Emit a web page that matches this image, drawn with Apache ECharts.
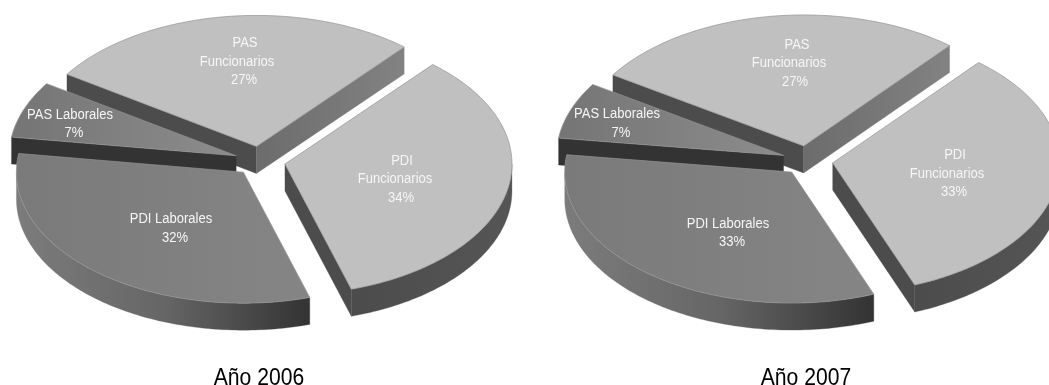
<!DOCTYPE html>
<html>
<head>
<meta charset="utf-8">
<style>html,body{margin:0;padding:0;background:#fff;overflow:hidden}#chart{width:1049px;height:385px}</style>
<script src="https://cdn.jsdelivr.net/npm/echarts@6/dist/echarts.min.js"></script>
</head>
<body>
<div id="chart"></div>
<script>
// Staff distribution by group, one exploded 3D-look pie per year.
var categories = [['PDI', 'Funcionarios'], ['PDI Laborales'], ['PAS Laborales'], ['PAS', 'Funcionarios']];
var values2006 = [34, 32, 7, 27];
var values2007 = [33, 33, 7, 27];
var titles = ['Año 2006', 'Año 2007'];

// Pie projection
var radiusX = 227, radiusY = 131, depth = 27, explode = 25.5;
var pieCenters = [[260, 161], [807.5, 160.5]];
var startAngles = [40.6, 40];
var titleCenters = [259, 806];
var titleMiddle = 378;

// Painting order, back to front
var sliceZ = [4, 3, 2, 1];

// Face colours per slice
var topColors = [
  '#c0c0c0',
  ['#7a7a7a', '#858585'],
  ['#757575', '#8c8c8c'],
  '#c0c0c0'
];
var startWallColors = [null, null, '#333333', '#4c4c4c'];
var endWallColors = ['#4c4c4c', null, null, ['#6c6c6c', '#828282']];
var arcWallColors = [
  ['#4c4c4c', '#555555'],
  ['#7c7c7c', '#666666', '#333333'],
  null,
  null
];
var edgeColor = '#949494';

// Centres of each label line, relative to the pie centre
var labelOffsets = [
  [
    [[142, 0], [135, 18], [141, 37]],
    [[-89, 58], [-85, 77]],
    [[-190, -46], [-186, -28]],
    [[-15, -118], [-23, -99], [-16, -81]]
  ],
  [
    [[147.5, -5.5], [139.5, 13.5], [146.5, 31.5]],
    [[-79.5, 63.5], [-75.5, 81.5]],
    [[-190.5, -46.5], [-186.5, -27.5]],
    [[-10.5, -115.5], [-18.5, -97.5], [-12.5, -78.5]]
  ]
];

function gradient(colors) {
  if (typeof colors === 'string') return colors;
  var stops = colors.map(function (c, i) {
    return { offset: i / (colors.length - 1), color: c };
  });
  return new echarts.graphic.LinearGradient(0, 0, 1, 0, stops);
}

function rimPoint(apex, deg) {
  var r = deg * Math.PI / 180;
  return [apex[0] + radiusX * Math.sin(r), apex[1] - radiusY * Math.cos(r)];
}

function rows(values) {
  var sum = 0;
  return values.map(function (v) {
    var row = [v, sum];
    sum += v;
    return row;
  });
}

function makeRenderer(chartIndex, values) {
  var total = values.reduce(function (a, b) { return a + b; }, 0);
  return function (params, api) {
    var i = params.dataIndex;
    var v = api.value(0);
    var a = startAngles[chartIndex] + api.value(1) / total * 360;
    var b = a + v / total * 360;
    var mid = (a + b) / 2 * Math.PI / 180;
    var c = pieCenters[chartIndex];
    var apex = [c[0] + explode * Math.sin(mid), c[1] - explode * radiusY / radiusX * Math.cos(mid)];
    var z = sliceZ[i] * 10;
    var children = [];

    function face(points, fill, zz, stroke) {
      children.push({
        type: 'polygon',
        z2: zz,
        shape: { points: points },
        style: { fill: fill, stroke: stroke || fill, lineWidth: stroke ? 0.7 : 0.3 }
      });
    }
    function radialWall(deg, colors) {
      var p = rimPoint(apex, deg);
      face([apex, p, [p[0], p[1] + depth], [apex[0], apex[1] + depth]], gradient(colors), z);
    }

    if (startWallColors[i]) radialWall(a, startWallColors[i]);
    if (endWallColors[i]) radialWall(b, endWallColors[i]);

    if (arcWallColors[i]) {
      // Only the near half of the rim shows its outer wall
      var from = Math.max(a, 90), to = Math.min(b, 270);
      var upper = [], lower = [];
      for (var d = from; d <= to; d += 1) upper.push(rimPoint(apex, d));
      upper.push(rimPoint(apex, to));
      upper.forEach(function (p) { lower.unshift([p[0], p[1] + depth]); });
      face(upper.concat(lower), gradient(arcWallColors[i]), z + 1);
    }

    var top = [apex];
    for (var e = a; e < b; e += 1) top.push(rimPoint(apex, e));
    top.push(rimPoint(apex, b));
    face(top, gradient(topColors[i]), z + 2, edgeColor);

    // Label lines: category name lines, then the percentage
    var lines = categories[i].concat(v + '%');
    lines.forEach(function (text, k) {
      var off = labelOffsets[chartIndex][i][k];
      children.push({
        type: 'text',
        z2: 100,
        x: c[0] + off[0],
        y: c[1] + off[1],
        scaleX: 0.93,
        style: {
          text: text,
          fill: '#f6f6f6',
          font: '14px "Liberation Sans", Arial, sans-serif',
          align: 'center',
          verticalAlign: 'middle'
        }
      });
    });

    return { type: 'group', children: children };
  };
}

var chart = echarts.init(document.getElementById('chart'), null, { renderer: 'canvas' });
chart.setOption({
  animation: false,
  backgroundColor: '#ffffff',
  graphic: titles.map(function (t, i) {
    return {
      type: 'text',
      x: titleCenters[i],
      y: titleMiddle,
      scaleX: 0.88,
      style: {
        text: t,
        fill: '#000',
        font: '24px "Liberation Sans", Arial, sans-serif',
        align: 'center',
        verticalAlign: 'middle'
      }
    };
  }),
  series: [values2006, values2007].map(function (vals, idx) {
    return {
      type: 'custom',
      coordinateSystem: 'none',
      silent: true,
      data: rows(vals),
      renderItem: makeRenderer(idx, vals)
    };
  })
});
</script>
</body>
</html>
